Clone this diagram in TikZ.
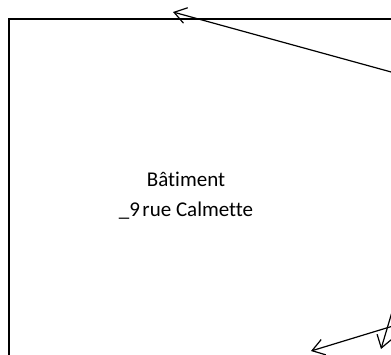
\documentclass[tikz,border=0pt]{standalone}
\usepackage{fontspec}
\setmainfont[Ligatures={NoCommon}]{Carlito}
\usetikzlibrary{arrows.meta}
\tikzset{
  conn/.style={line width=1.2pt, -{Straight Barb[length=12pt,width=16pt,line width=1.2pt]}},
  frame/.style={line width=1.2pt},
  lbl/.style={align=center, font=\fontsize{21}{30}\selectfont, inner sep=0pt}
}
\begin{document}
\begin{tikzpicture}[x=1pt,y=-1pt]
\useasboundingbox (0,0) rectangle (391,354);
\clip (0,0) rectangle (391,354);
\draw[frame] (9,19) rectangle (420,380);
\node[lbl] (txt) at (186,196) {Bâtiment\\\_9\hspace{0.12em}rue Calmette};
\coordinate (a1s) at (393,72.5);
\coordinate (a1e) at (173,12);
\coordinate (a2s) at (392,312);
\coordinate (a2e) at (381,349);
\coordinate (a3s) at (393,326);
\coordinate (a3e) at (311,351);
\draw[conn] (a1s) -- (a1e);
\draw[conn] (a2s) -- (a2e);
\draw[conn] (a3s) -- (a3e);
\end{tikzpicture}
\end{document}
